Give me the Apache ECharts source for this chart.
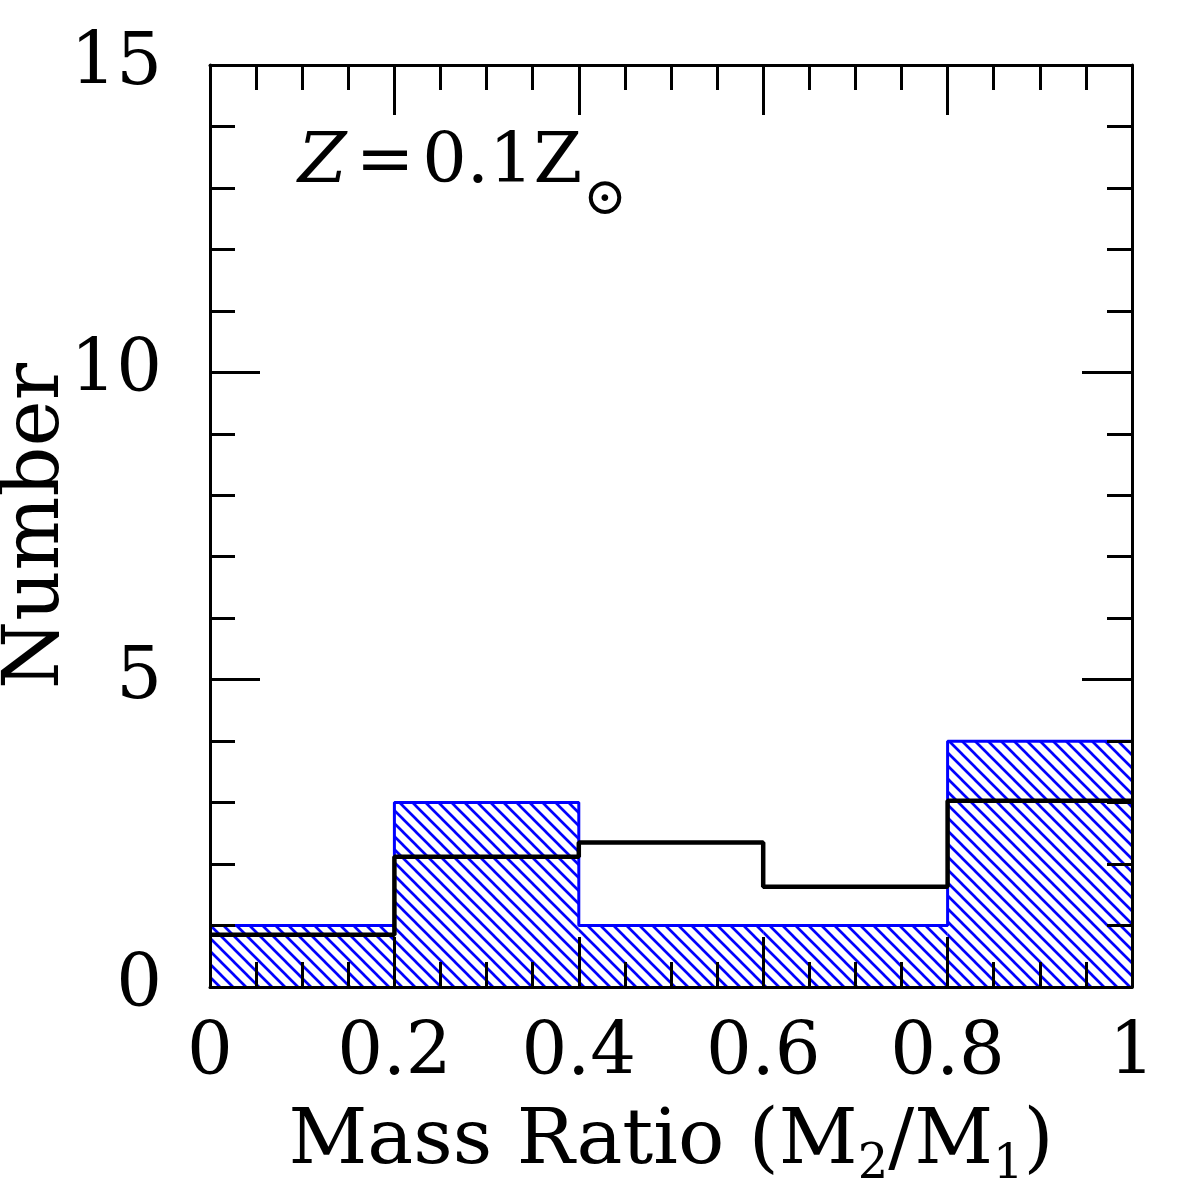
<!DOCTYPE html>
<html><head><meta charset="utf-8">
<script src="https://cdn.jsdelivr.net/npm/echarts@6/dist/echarts.min.js"></script>
<style>html,body{margin:0;padding:0;background:#fff}#c{width:1196px;height:1196px}</style>
</head><body><div id="c"></div>
<script>
const binEdges = [0, 0.2, 0.4, 0.6, 0.8, 1.0];
const blueCounts = [1, 3, 1, 1, 4];
const blackValues = [0.85, 2.12, 2.35, 1.63, 3.03];
const xTickLabels = ['0', '0.2', '0.4', '0.6', '0.8', '1'];
const yTickLabels = ['0', '5', '10', '15'];

const FONT = '"DejaVu Serif", "Liberation Serif", serif';

function hatchCanvas() {
  const s = 13;
  const c = document.createElement('canvas');
  c.width = s; c.height = s;
  const g = c.getContext('2d');
  g.strokeStyle = '#0000ff';
  g.lineWidth = 2.7;
  g.beginPath();
  for (let k = -1; k <= 1; k++) {
    g.moveTo(k * s - 2, -2);
    g.lineTo(k * s + s + 2, s + 2);
  }
  g.stroke();
  return c;
}
const hatch = { image: hatchCanvas(), repeat: 'repeat' };

function stepPoints(values) {
  const pts = values.map((v, i) => [binEdges[i], v]);
  pts.push([binEdges[binEdges.length - 1], values[values.length - 1]]);
  return pts;
}

const chart = echarts.init(document.getElementById('c'), null, { renderer: 'canvas' });

const axisLineStyle = { color: '#000', width: 3 };
function xAxisCfg(pos, labels) {
  return {
    type: 'value', position: pos, min: 0, max: 1, interval: 0.2, z: 10,
    axisLine: { show: true, onZero: false, lineStyle: axisLineStyle },
    axisTick: { show: true, inside: true, length: 50, lineStyle: { color: '#000', width: 3 } },
    minorTick: { show: true, splitNumber: 4, length: 25, lineStyle: { color: '#000', width: 3 } },
    splitLine: { show: false }, minorSplitLine: { show: false },
    axisLabel: labels ? {
      show: true, margin: 32, fontFamily: FONT, fontSize: 72, color: '#000',
      formatter: (v, i) => xTickLabels[i]
    } : { show: false }
  };
}
function yAxisCfg(pos, labels) {
  return {
    type: 'value', position: pos, min: 0, max: 15, interval: 5, z: 10,
    axisLine: { show: true, onZero: false, lineStyle: axisLineStyle },
    axisTick: { show: true, inside: true, length: 50, lineStyle: { color: '#000', width: 3 } },
    minorTick: { show: true, splitNumber: 5, length: 25, lineStyle: { color: '#000', width: 3 } },
    splitLine: { show: false }, minorSplitLine: { show: false },
    axisLabel: labels ? {
      show: true, margin: 48, fontFamily: FONT, fontSize: 72, color: '#000',
      formatter: (v, i) => yTickLabels[i]
    } : { show: false }
  };
}

const xBottom = xAxisCfg('bottom', true);
xBottom.name = 'Mass Ratio (M{sub|2}/M{sub|1})';
xBottom.nameLocation = 'middle';
xBottom.nameGap = 108;
xBottom.nameMoveOverlap = false;
xBottom.nameTextStyle = {
  fontFamily: FONT, fontSize: 77, color: '#000', lineHeight: 95,
  rich: { sub: { fontFamily: FONT, fontSize: 48, color: '#000', verticalAlign: 'bottom', lineHeight: 14 } }
};
const yLeft = yAxisCfg('left', true);
yLeft.name = 'Number';
yLeft.nameLocation = 'middle';
yLeft.nameGap = 133;
yLeft.nameMoveOverlap = false;
yLeft.nameTextStyle = { fontFamily: FONT, fontSize: 78, color: '#000' };

const option = {
  backgroundColor: '#fff',
  animation: false,
  grid: { left: 210, right: 64, top: 65, bottom: 209, show: false, containLabel: false, outerBoundsMode: 'none' },
  xAxis: [xBottom, xAxisCfg('top', false)],
  yAxis: [yLeft, yAxisCfg('right', false)],
  graphic: [{
    type: 'text', left: 298, top: 129, z: 20,
    style: {
      text: '{it|Z}{eq|=}0.1Z',
      fontFamily: FONT, fontSize: 70, fill: '#000', lineHeight: 70,
      rich: {
        it: { fontFamily: FONT, fontSize: 70, fontStyle: 'italic', lineHeight: 70 },
        eq: { fontFamily: FONT, fontSize: 70, lineHeight: 70, padding: [0, 8, 0, 9] }
      }
    }
  }, {
    type: 'text', left: 583, top: 174, z: 20,
    style: { text: '⊙', fontFamily: FONT, fontSize: 52, lineHeight: 52, fill: '#000' }
  }],
  series: [
    {
      type: 'custom', xAxisIndex: 0, yAxisIndex: 0, z: 2,
      data: blueCounts.map((c, i) => [binEdges[i], binEdges[i + 1], c]),
      encode: { x: [0, 1], y: 2 },
      renderItem: function (params, api) {
        const p0 = api.coord([api.value(0), 0]);
        const p1 = api.coord([api.value(1), api.value(2)]);
        return {
          type: 'rect',
          shape: { x: p0[0], y: p1[1], width: p1[0] - p0[0], height: p0[1] - p1[1] },
          style: { fill: hatch, stroke: null }
        };
      }
    },
    {
      type: 'line', step: 'end', z: 3, symbol: 'none', showSymbol: false,
      data: stepPoints(blueCounts),
      lineStyle: { color: '#0000ff', width: 3 }
    },
    {
      type: 'line', step: 'end', z: 4, symbol: 'none', showSymbol: false,
      data: stepPoints(blackValues),
      lineStyle: { color: '#000', width: 4.5 }
    }
  ]
};
chart.setOption(option);
</script></body></html>
